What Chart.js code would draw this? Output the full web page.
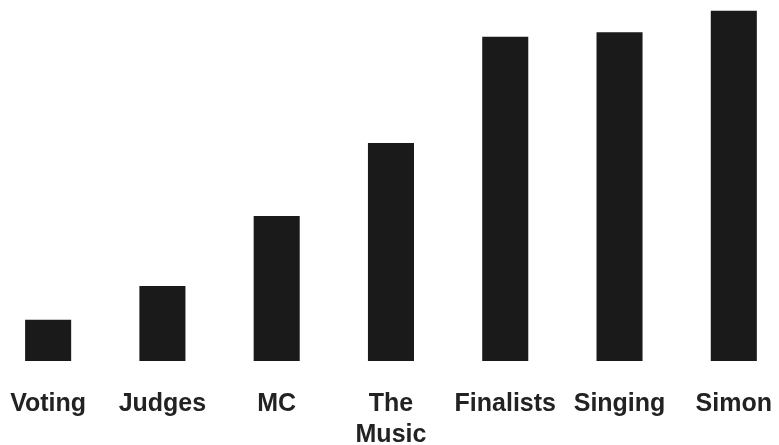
<!DOCTYPE html>
<html>
<head>
<meta charset="utf-8">
<script src="https://cdn.jsdelivr.net/npm/chart.js@4"></script>
<style>
  html, body { margin: 0; padding: 0; background: #fff; overflow: hidden; }
  #wrap { position: absolute; left: -9px; top: 0; width: 800px; height: 445px; }
</style>
</head>
<body>
<div id="wrap"><canvas id="chart" width="800" height="445"></canvas></div>
<script>
// categories and bar heights (share of the tallest possible bar)
categories = ['Voting', 'Judges', 'MC', ['The', 'Music'], 'Finalists', 'Singing', 'Simon'];
values = [11.4, 20.8, 40.2, 60.4, 89.8, 91.1, 97.0];

chartdata = {
  labels: categories,
  datasets: [{
    data: values,
    backgroundColor: '#1a1a1a',
    borderWidth: 0,
    categoryPercentage: 1,
    barPercentage: 0.403
  }]
};

config = {
  type: 'bar',
  data: chartdata,
  options: {
    responsive: false,
    animation: false,
    layout: { padding: 0 },
    plugins: { legend: { display: false }, tooltip: { enabled: false } },
    scales: {
      x: {
        grid: { display: false },
        border: { display: false },
        ticks: {
          color: '#222',
          padding: 19,
          maxRotation: 0,
          autoSkip: false,
          font: { family: 'Liberation Sans', size: 25, weight: 'bold', lineHeight: 1.25 }
        },
        afterFit: function (s) { s.height = 84; }
      },
      y: {
        display: false,
        min: 0,
        max: 100
      }
    }
  }
};

var myChart = new Chart(document.getElementById('chart'), config);
</script>
</body>
</html>
